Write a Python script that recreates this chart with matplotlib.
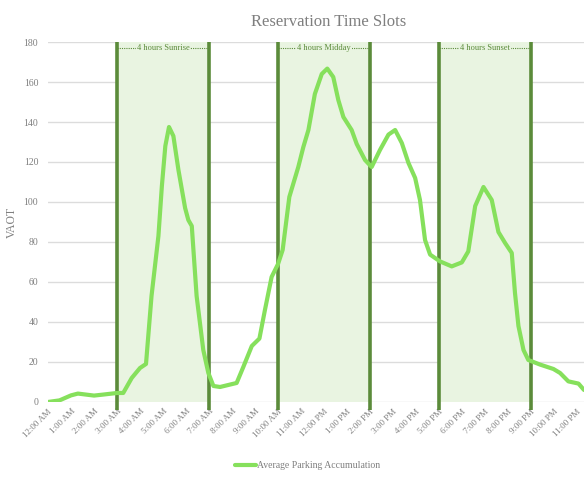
import matplotlib
matplotlib.use("Agg")
import matplotlib.pyplot as plt

# Average parking accumulation (VAOT) by time of day, in hours after midnight
hours = [0, 0.5, 1.0, 1.3, 2.0, 2.4, 3.0, 3.27, 3.64, 4.0, 4.26, 4.5, 4.8, 4.95,
         5.1, 5.26, 5.45, 5.67, 5.96, 6.1, 6.25, 6.46, 6.75, 6.97, 7.19, 7.48,
         7.91, 8.2, 8.49, 8.86, 9.19, 9.43, 9.72, 10.0, 10.2, 10.49, 10.88, 11.1,
         11.32, 11.6, 11.9, 12.14, 12.4, 12.62, 12.84, 13.2, 13.42, 13.78, 14.07,
         14.43, 14.8, 15.09, 15.38, 15.67, 15.96, 16.17, 16.39, 16.61, 17.04,
         17.55, 17.99, 18.27, 18.57, 18.93, 19.29, 19.58, 19.87, 20.16, 20.3,
         20.45, 20.67, 20.88, 21.39, 21.97, 22.26, 22.62, 23.06, 23.3]
vaot = [0, 0.8, 3.3, 4.2, 3.2, 3.7, 4.5, 4.5, 12, 17, 19, 53, 83, 108,
        128, 137.5, 133, 116, 97, 91, 88, 53, 26, 14.5, 8, 7.5,
        8.7, 9.5, 17.5, 28, 31.7, 46, 62.5, 69, 76, 102.5, 117.5, 127.5,
        136, 154, 164, 166.7, 162.5, 151, 142.5, 136, 129, 121, 117.5,
        126, 133.7, 136, 129.5, 119.5, 112, 101, 81, 73.7, 70.3,
        67.8, 69.8, 75.3, 98, 107.5, 101, 85, 79.5, 74.5, 54.5,
        38, 26, 21, 18.7, 16.5, 14.5, 10.3, 9.2, 6]

tick_labels = ["12:00 AM", "1:00 AM", "2:00 AM", "3:00 AM", "4:00 AM", "5:00 AM",
               "6:00 AM", "7:00 AM", "8:00 AM", "9:00 AM", "10:00 AM", "11:00 AM",
               "12:00 PM", "1:00 PM", "2:00 PM", "3:00 PM", "4:00 PM", "5:00 PM",
               "6:00 PM", "7:00 PM", "8:00 PM", "9:00 PM", "10:00 PM", "11:00 PM"]

slot_names = ["4 hours Sunrise", "4 hours Midday", "4 hours Sunset"]
slot_starts = [3, 10, 17]
slot_ends = [7, 14, 21]

SERIF = ["Liberation Serif", "DejaVu Serif"]
GRAY = "#7f7f7f"
FILL = "#e9f4e1"
EDGE = "#5b8b3a"
LINE = "#86e05c"

fig = plt.figure(figsize=(5.84, 4.79), dpi=100)
ax = fig.add_axes([0.0822, 0.1608, 0.9178, 0.7515])

ymax = 180
ax.set_xlim(0, 23.3)
ax.set_ylim(0, ymax)
ax.set_yticks(range(0, 181, 20))
ax.grid(axis="y", color="#dcdcdc", linewidth=1.0)
ax.set_axisbelow(True)
for s in ax.spines.values():
    s.set_visible(False)

# reservation slots: shaded band, bold boundaries, dotted caption bar
for name, a, b in zip(slot_names, slot_starts, slot_ends):
    ax.axvspan(a, b, color=FILL, zorder=1, linewidth=0)
    for xv in (a, b):
        ax.plot([xv, xv], [-4, ymax], color=EDGE, linewidth=2.6,
                zorder=3, clip_on=False, solid_capstyle="butt")
    ax.plot([a, b], [ymax - 3, ymax - 3], color=EDGE, linewidth=0.8,
            linestyle=(0, (1, 1)), zorder=2)
    ax.text((a + b) / 2, ymax - 3, name, ha="center", va="center",
            fontsize=6, color=EDGE, family=SERIF, zorder=2,
            bbox=dict(facecolor=FILL, edgecolor="none", pad=0.6))

ax.plot(hours, vaot, color=LINE, linewidth=3.0, zorder=4,
        solid_joinstyle="round", solid_capstyle="round",
        label="Average Parking Accumulation")

ax.set_xticks(range(len(tick_labels)))
ax.set_xticklabels(tick_labels, rotation=45, ha="right", va="top",
                   rotation_mode="anchor", fontsize=6.5, color=GRAY, family=SERIF)
ax.tick_params(axis="x", length=0, pad=4)
ax.tick_params(axis="y", length=0, pad=7, labelsize=7, labelcolor=GRAY)
for lbl in ax.get_yticklabels():
    lbl.set_family(SERIF)

ax.set_ylabel("VAOT", fontsize=8.5, color=GRAY, family=SERIF, labelpad=4)

fig.text(0.562, 0.955, "Reservation Time Slots", ha="center", va="center",
         fontsize=12, color=GRAY, family=SERIF)

leg = fig.legend(loc="lower center", bbox_to_anchor=(0.527, 0.0), frameon=False,
                 prop={"family": SERIF, "size": 7}, handlelength=2.2,
                 handletextpad=0.1)
for t in leg.get_texts():
    t.set_color(GRAY)

fig.savefig("out.png", dpi=100)
